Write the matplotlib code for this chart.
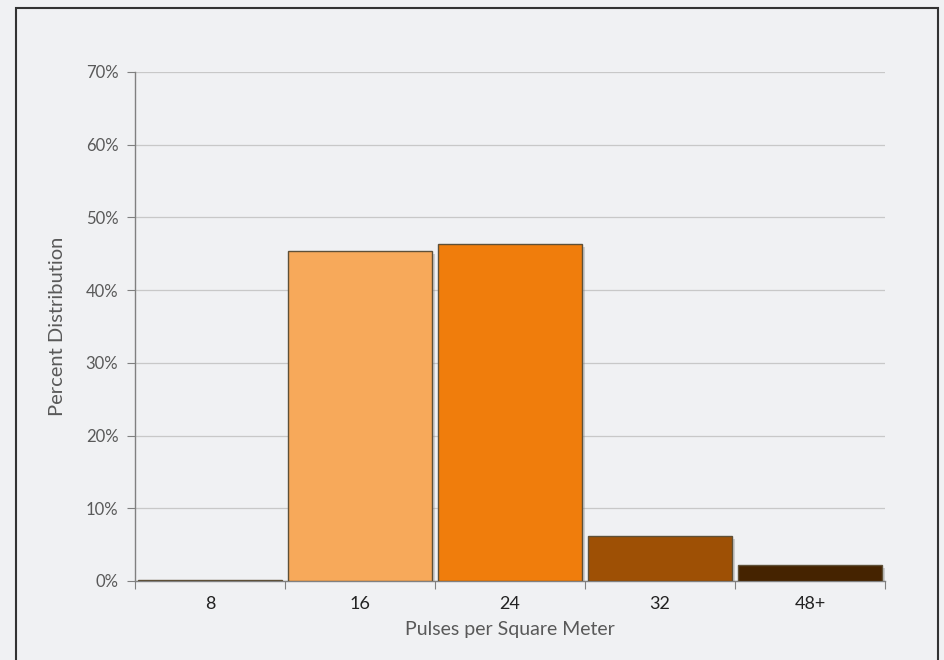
import matplotlib.pyplot as plt
import matplotlib.patches as patches
import matplotlib.patheffects as pe
from matplotlib.ticker import PercentFormatter

plt.rcParams['font.family'] = ['Lato', 'DejaVu Sans']

# Verteilung der Punktdichte
categories = ['8', '16', '24', '32', '48+']
percent = [0.1, 45.4, 46.3, 6.2, 2.2]
colors = ['#FAD3A8', '#F7A95A', '#F07D0C', '#9E5005', '#452300']

bg = '#F0F1F3'
fig = plt.figure(figsize=(9.44, 6.6), dpi=100, facecolor=bg)
ax = fig.add_axes([0.143, 0.1197, 0.7945, 0.7713])
ax.set_facecolor(bg)

# Rahmen um die Grafik
frame = patches.Rectangle((16 / 944, -0.05), 922 / 944, 1.05 - 8 / 660,
                          transform=fig.transFigure, fill=False,
                          edgecolor='#333333', lw=1.5)
fig.add_artist(frame)

x = range(len(categories))
bars = ax.bar(x, percent, width=0.955, color=colors, edgecolor='#5E5038',
              linewidth=1.0, zorder=3)
for b in bars:
    b.set_path_effects([pe.SimplePatchShadow(offset=(2.5, -2), shadow_rgbFace='#888888', alpha=0.35),
                        pe.Normal()])

ax.set_xlim(-0.5, len(categories) - 0.5)
ax.set_ylim(0, 70)
ax.set_yticks(range(0, 71, 10))
ax.yaxis.set_major_formatter(PercentFormatter(decimals=0))
ax.grid(axis='y', color='#C8C8C8', lw=0.9, zorder=0)

# Teilstriche zwischen den Kategorien
ax.set_xticks([i - 0.5 for i in range(len(categories) + 1)])
ax.set_xticklabels([])
ax.set_xticks(list(x), minor=True)
ax.set_xticklabels(categories, minor=True)
ax.tick_params(axis='x', which='minor', length=0, pad=11, labelsize=13, labelcolor='#222222')
ax.tick_params(axis='x', which='major', length=6, color='#808080', direction='out')
ax.tick_params(axis='y', length=6, color='#808080', labelsize=12, labelcolor='#595959', pad=6)

for side in ['top', 'right']:
    ax.spines[side].set_visible(False)
for side in ['left', 'bottom']:
    ax.spines[side].set_color('#808080')
    ax.spines[side].set_linewidth(1.0)

ax.set_xlabel('Pulses per Square Meter', fontsize=14, color='#595959', labelpad=6)
ax.set_ylabel('Percent Distribution', fontsize=14.5, color='#595959', labelpad=14)

fig.savefig('out.png', dpi=100, facecolor=bg)
